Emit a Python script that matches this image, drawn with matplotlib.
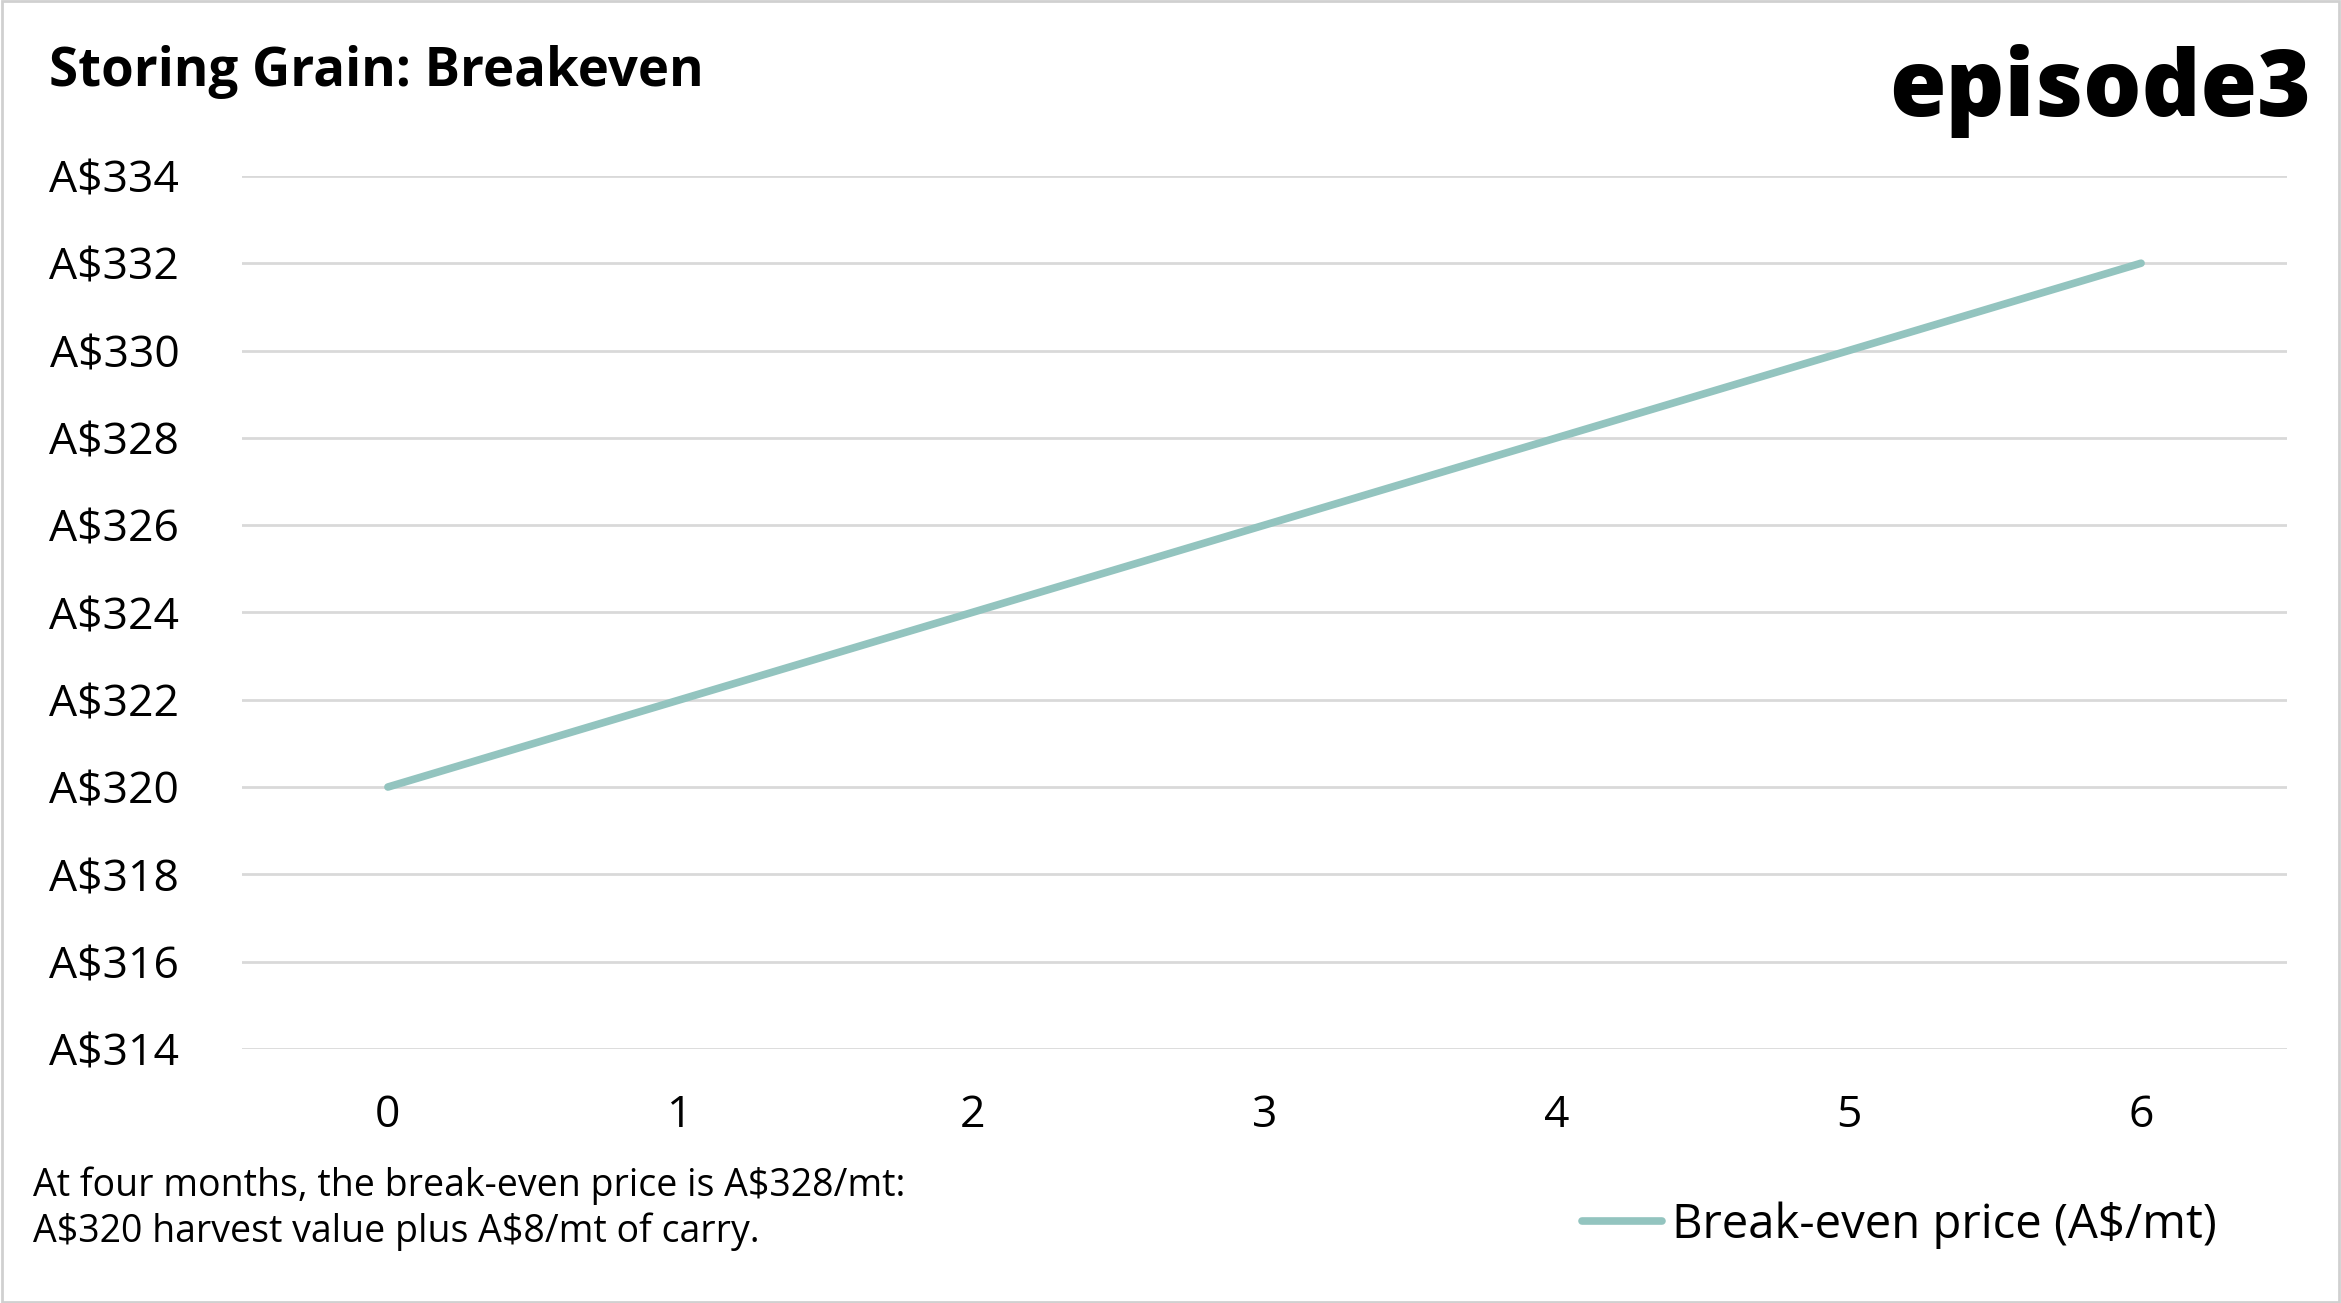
import matplotlib.pyplot as plt
from matplotlib.patches import Rectangle

months = [0, 1, 2, 3, 4, 5, 6]
breakeven = [320, 322, 324, 326, 328, 330, 332]
y_ticks = list(range(314, 336, 2))
y_labels = ["A$%d" % v for v in y_ticks]

plt.rcParams["font.family"] = ["Open Sans", "DejaVu Sans"]
plt.rcParams["text.parse_math"] = False

fig = plt.figure(figsize=(23.41, 13.03), dpi=100)
ax = fig.add_axes([0.1033, 0.195, 0.8737, 0.67])

ax.plot(months, breakeven, color="#93C4BF", linewidth=5.5,
        solid_capstyle="round", label="Break-even price (A$/mt)")
ax.set_xlim(-0.5, 6.5)
ax.set_ylim(314, 334)
ax.set_yticks(y_ticks)
ax.set_yticklabels(y_labels)
ax.set_xticks(months)
ax.grid(axis="y", color="#d9d9d9", linewidth=2)
ax.set_axisbelow(True)
for s in ax.spines.values():
    s.set_visible(False)
ax.tick_params(length=0, labelsize=32, colors="black")
ax.tick_params(axis="y", pad=45)
ax.tick_params(axis="x", pad=32)

fig.text(0.021, 0.945, "Storing Grain: Breakeven", fontsize=38,
         fontweight="bold", va="center")
fig.text(0.987, 0.93, "episode3", fontsize=66, fontweight="heavy",
         ha="right", va="center")
fig.text(0.014, 0.072, "At four months, the break-even price is A$328/mt:\n"
         "A$320 harvest value plus A$8/mt of carry.", fontsize=27,
         va="center", linespacing=1.25)
fig.legend(loc="center right", bbox_to_anchor=(0.965, 0.06), fontsize=34,
           frameon=False, handlelength=1.7, handletextpad=0.2)

fig.patches.append(Rectangle((0.001, 0.001), 0.998, 0.998, transform=fig.transFigure,
                             fill=False, edgecolor="#d0d0d0", linewidth=2))
fig.savefig("out.png", dpi=100)
